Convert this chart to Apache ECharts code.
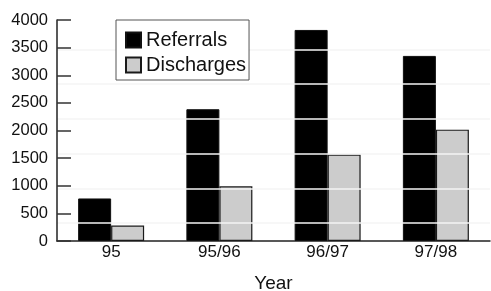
<!DOCTYPE html>
<html>
<head>
    <meta charset="UTF-8" />
    <title>Referrals and discharges</title>
    <script src="https://cdn.jsdelivr.net/npm/echarts@6/dist/echarts.min.js"></script>
    <style>
        html, body { margin: 0; padding: 0; background: #fff; }
        #chart { width: 491px; height: 291px; }
    </style>
</head>
<body>
    <div id="chart"></div>
    <script type="text/javascript">
        // data
        let years = ['95', '95/96', '96/97', '97/98'];
        let referrals = [770, 2385, 3820, 3350];
        let discharges = [280, 990, 1565, 2015];
        let yTicks = [0, 500, 1000, 1500, 2000, 2500, 3000, 3500, 4000];
        // faint white streaks that cross the bars in the scan
        let streakLevels = [336, 951, 1578, 2211, 2839, 3464];

        let font = 'Liberation Sans, Arial, sans-serif';
        let chart = echarts.init(document.getElementById('chart'));

        let option = {
            animation: false,
            textStyle: { fontFamily: font, color: '#111' },
            grid: { left: 57, right: 1, top: 20, bottom: 50, outerBoundsMode: 'none', containLabel: false },
            legend: {
                orient: 'vertical',
                left: 116,
                top: 20,
                z: 20,
                padding: [10, 3, 5, 9],
                itemGap: 5,
                itemWidth: 15,
                itemHeight: 15,
                borderColor: '#555',
                borderWidth: 1,
                backgroundColor: '#fff',
                textStyle: { fontSize: 20, color: '#111', fontFamily: font },
                data: [
                    { name: 'Referrals', icon: 'rect' },
                    { name: 'Discharges', icon: 'rect' }
                ]
            },
            xAxis: {
                type: 'category',
                data: years,
                name: 'Year',
                nameLocation: 'middle',
                nameGap: 33,
                nameTextStyle: { fontSize: 19, color: '#111' },
                axisLine: { lineStyle: { color: '#222', width: 1.5 } },
                axisTick: { inside: true, length: 14, lineStyle: { color: '#222', width: 1.5 } },
                axisLabel: { fontSize: 17, color: '#111', margin: 3 }
            },
            yAxis: {
                type: 'value',
                min: yTicks[0],
                max: yTicks[yTicks.length - 1],
                interval: 500,
                z: 15,
                axisLine: { show: true, lineStyle: { color: '#222', width: 1.5 } },
                axisTick: { show: true, inside: true, length: 14, lineStyle: { color: '#333', width: 1.5 } },
                axisLabel: {
                    fontSize: 16.5, color: '#111', margin: 9,
                    formatter: v => String(v)
                },
                splitLine: { show: false }
            },
            series: [
                {
                    name: 'Referrals',
                    type: 'bar',
                    data: referrals,
                    barWidth: 33,
                    barGap: '0%',
                    itemStyle: { color: '#000', borderColor: '#111', borderWidth: 1 }
                },
                {
                    name: 'Discharges',
                    type: 'bar',
                    data: discharges,
                    barWidth: 33,
                    barGap: '0%',
                    itemStyle: { color: '#cccccc', borderColor: '#1a1a1a', borderWidth: 1.2 },
                    markLine: {
                        silent: true,
                        z: 10,
                        symbol: ['none', 'none'],
                        label: { show: false },
                        emphasis: { disabled: true },
                        lineStyle: { color: '#f4f4f4', type: 'solid', width: 1.5, opacity: 1 },
                        data: streakLevels.map(v => ({ yAxis: v }))
                    }
                }
            ]
        };
        chart.setOption(option);
    </script>
</body>
</html>
